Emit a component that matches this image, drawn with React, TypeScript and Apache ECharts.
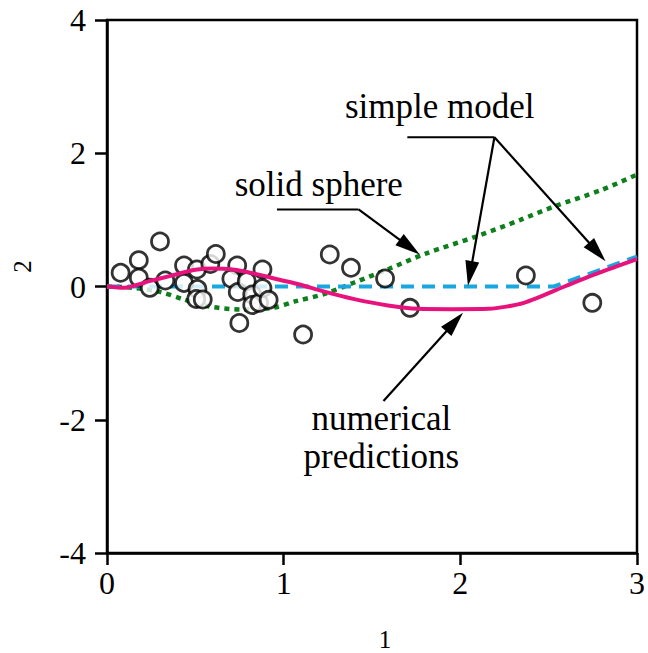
import React, { useEffect, useRef } from "react";
import * as echarts from "echarts";

// Axis ticks
const xTicks = [0, 1, 2, 3];
const yTicks = [-4, -2, 0, 2, 4];
const xName = "1";
const yName = "2";

// Observations (open circles)
const obsX = [0.077, 0.18, 0.18, 0.242, 0.3, 0.33, 0.436, 0.436, 0.509, 0.512, 0.505, 0.542, 0.585, 0.616, 0.737, 0.704, 0.74, 0.791, 0.749, 0.822, 0.822, 0.861, 0.88, 0.88, 0.915, 1.11, 1.261, 1.381, 1.574, 1.715, 2.371, 2.747];
const obsY = [0.206, 0.395, 0.131, -0.02, 0.676, 0.09, 0.315, 0.053, 0.255, -0.038, -0.188, -0.195, 0.338, 0.488, 0.315, 0.116, -0.083, 0.08, -0.548, -0.12, -0.278, -0.245, 0.255, -0.026, -0.2, -0.721, 0.48, 0.281, 0.12, -0.32, 0.165, -0.245];

// Numerical predictions (magenta solid)
const numX = [0, 0.1, 0.24, 0.36, 0.5, 0.6, 0.71, 0.84, 0.97, 1.09, 1.22, 1.4, 1.59, 1.76, 1.95, 2.16, 2.36, 2.59, 2.78, 3.0];
const numY = [0, -0.02, 0.08, 0.16, 0.25, 0.27, 0.255, 0.19, 0.105, 0.03, -0.07, -0.19, -0.285, -0.335, -0.34, -0.335, -0.245, 0.0, 0.2, 0.41];

// Simple model (blue dashed)
const simX = [0, 2.53, 3.0];
const simY = [0, 0, 0.45];

// Solid sphere (green dotted)
const sphX = [0, 0.15, 0.3, 0.43, 0.58, 0.77, 0.94, 1.07, 1.22, 1.4, 1.6, 1.8, 2.1, 2.34, 2.53, 2.8, 3.0];
const sphY = [0, -0.02, -0.08, -0.19, -0.3, -0.345, -0.32, -0.22, -0.12, 0.06, 0.27, 0.49, 0.76, 1.0, 1.2, 1.45, 1.68];

const zip = (xs: number[], ys: number[]) => xs.map((x, i) => [x, ys[i]]);

const FONT = "'Liberation Serif', 'Times New Roman', serif";

export default function App() {
  const ref = useRef<HTMLDivElement>(null);

  useEffect(() => {
    if (!ref.current) return;
    const chart = echarts.init(ref.current, null, { renderer: "svg" });
    const option: any = {
      animation: false,
      backgroundColor: "#fff",
      grid: {
        left: 107,
        right: 8,
        top: 20,
        bottom: 100,
        show: true,
        borderColor: "#000",
        borderWidth: 2.5,
        backgroundColor: "transparent",
      },
      xAxis: {
        type: "value",
        min: xTicks[0],
        max: xTicks[xTicks.length - 1],
        interval: 1,
        splitLine: { show: false },
        axisLine: { show: true, onZero: false, lineStyle: { color: "#000", width: 2.5 } },
        axisTick: { show: true, length: 12, lineStyle: { color: "#000", width: 2.5 } },
        axisLabel: { color: "#000", fontFamily: FONT, fontSize: 32, margin: 14 },
      },
      yAxis: {
        type: "value",
        min: yTicks[0],
        max: yTicks[yTicks.length - 1],
        interval: 2,
        splitLine: { show: false },
        axisLine: { show: true, onZero: false, lineStyle: { color: "#000", width: 2.5 } },
        axisTick: { show: true, length: 12, lineStyle: { color: "#000", width: 2.5 } },
        axisLabel: { color: "#000", fontFamily: FONT, fontSize: 32, margin: 21 },
      },
      series: [
        {
          name: "solid sphere",
          type: "line",
          data: zip(sphX, sphY),
          showSymbol: false,
          smooth: 0.3,
          z: 2,
          lineStyle: { color: "#0e7f1c", width: 4.5, type: [5, 5] },
        },
        {
          name: "simple model",
          type: "line",
          data: zip(simX, simY),
          showSymbol: false,
          z: 3,
          lineStyle: { color: "#1aa7e0", width: 4, type: [13, 8] },
        },
        {
          name: "observations",
          type: "scatter",
          data: zip(obsX, obsY),
          symbol: "circle",
          symbolSize: 17,
          z: 4,
          itemStyle: { color: "#fff", borderColor: "#000", borderWidth: 2.8 },
        },
        {
          name: "numerical predictions",
          type: "line",
          data: zip(numX, numY),
          showSymbol: false,
          smooth: 0.25,
          z: 5,
          lineStyle: { color: "#e8127c", width: 4 },
        },
      ],
    };
    chart.setOption(option);

    const px = (p: number[]) => chart.convertToPixel({ gridIndex: 0 }, p) as number[];
    const els: any[] = [];
    const line = (pts: number[][]) => {
      els.push({
        type: "polyline",
        z: 10,
        shape: { points: pts },
        style: { stroke: "#000", lineWidth: 2.2, fill: null },
      });
    };
    const arrow = (from: number[], to: number[]) => {
      const [x1, y1] = px(from);
      const [x2, y2] = px(to);
      const dx = x2 - x1;
      const dy = y2 - y1;
      const len = Math.hypot(dx, dy);
      const ux = dx / len;
      const uy = dy / len;
      const L = 25;
      const W = 7;
      const bx = x2 - ux * L;
      const by = y2 - uy * L;
      line([[x1, y1], [bx + ux * 2, by + uy * 2]]);
      els.push({
        type: "polygon",
        z: 10,
        shape: {
          points: [
            [x2, y2],
            [bx - uy * W, by + ux * W],
            [bx + uy * W, by - ux * W],
          ],
        },
        style: { fill: "#000" },
      });
    };
    const text = (p: number[], t: string, size: number, rot = 0, lh?: number) => {
      const [x, y] = px(p);
      els.push({
        type: "text",
        z: 10,
        x,
        y,
        rotation: rot,
        style: {
          text: t,
          font: `${size}px ${FONT}`,
          fill: "#000",
          textAlign: "center",
          textVerticalAlign: "middle",
          lineHeight: lh,
        },
      });
    };

    // solid sphere annotation
    text([1.199, 1.53], "solid sphere", 35);
    line([px([0.962, 1.156]), px([1.424, 1.156])]);
    arrow([1.424, 1.156], [1.77, 0.48]);

    // simple model annotation
    text([1.883, 2.703], "simple model", 35);
    line([px([1.70, 2.24]), px([2.193, 2.24])]);
    arrow([2.193, 2.24], [2.043, 0.01]);
    arrow([2.193, 2.24], [2.822, 0.38]);

    // numerical predictions annotation
    text([1.553, -2.27], "numerical\npredictions", 35, 0, 38);
    arrow([1.565, -1.72], [2.015, -0.395]);

    // axis names
    const [gx0, gy0] = px([0, -4]);
    const [gx1, gy1] = px([3, 4]);
    els.push({
      type: "text",
      x: (gx0 + gx1) / 2 + 13,
      y: gy0 + 86,
      style: { text: xName, font: `25px ${FONT}`, fill: "#000", textAlign: "center", textVerticalAlign: "middle" },
    });
    els.push({
      type: "text",
      x: gx0 - 85,
      y: (gy0 + gy1) / 2 - 20,
      rotation: Math.PI / 2,
      style: { text: yName, font: `25px ${FONT}`, fill: "#000", textAlign: "center", textVerticalAlign: "middle" },
    });

    chart.setOption({ graphic: els });

    return () => chart.dispose();
  }, []);

  return (
    <div
      ref={ref}
      style={{ position: "fixed", left: 0, top: 0, width: 648, height: 653, background: "#fff" }}
    />
  );
}
